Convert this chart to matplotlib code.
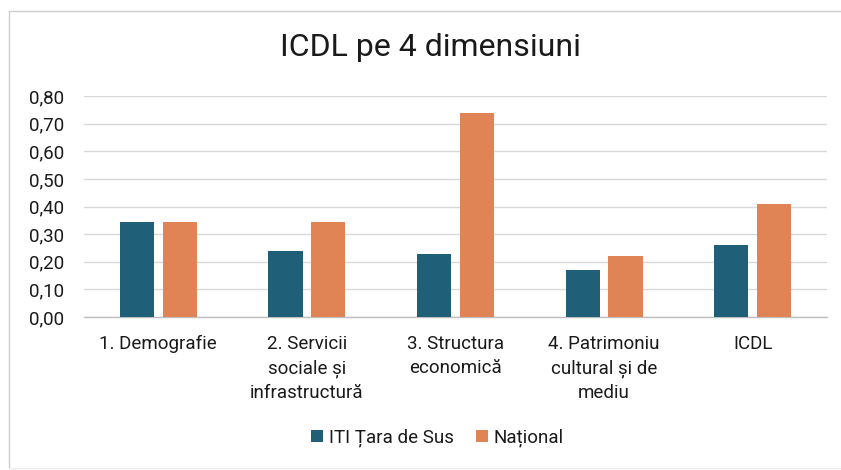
import matplotlib
matplotlib.use("Agg")
import matplotlib.pyplot as plt
import numpy as np
from matplotlib.lines import Line2D

categories = ["1. Demografie", "2. Servicii\nsociale și\ninfrastructură", "3. Structura\neconomică",
              "4. Patrimoniu\ncultural și de\nmediu", "ICDL"]
iti_values = [0.345, 0.24, 0.227, 0.17, 0.26]
national_values = [0.345, 0.345, 0.74, 0.22, 0.41]
series_names = ["ITI Țara de Sus", "Național"]
yticks = [0.0, 0.1, 0.2, 0.3, 0.4, 0.5, 0.6, 0.7, 0.8]
ytick_labels = ["0,00", "0,10", "0,20", "0,30", "0,40", "0,50", "0,60", "0,70", "0,80"]
title = "ICDL pe 4 dimensiuni"

plt.rcParams['font.family'] = ['Roboto', 'DejaVu Sans']

fig = plt.figure(figsize=(8.41, 4.70), dpi=100)
# chart frame (top and left edges visible, faint bottom)
fig.add_artist(Line2D([9/841, 1.0], [1-11/470, 1-11/470], transform=fig.transFigure,
                      color="#cfcfcf", linewidth=1.0))
fig.add_artist(Line2D([9/841, 9/841], [1-11/470, 1-468/470], transform=fig.transFigure,
                      color="#cfcfcf", linewidth=1.0))
fig.add_artist(Line2D([9/841, 1.0], [1-468/470, 1-468/470], transform=fig.transFigure,
                      color="#ececec", linewidth=1.0))

ax = fig.add_axes([84/841, 1-317/470, 743/841, 221/470])

x = np.arange(len(categories))
w = 0.23
off = 0.144
c1 = "#1f5f78"
c2 = "#e08456"
ax.bar(x - off, iti_values, w, color=c1, label=series_names[0], zorder=3)
ax.bar(x + off, national_values, w, color=c2, label=series_names[1], zorder=3)

ax.set_xlim(-0.5, len(categories) - 0.5)
ax.set_ylim(0, 0.8)
ax.set_yticks(yticks)
ax.set_yticklabels(ytick_labels, fontsize=13.5, color="#1a1a1a")
ax.set_xticks(x)
ax.set_xticklabels(categories, fontsize=13.5, color="#1a1a1a", linespacing=1.45)
ax.tick_params(axis="both", length=0)
ax.tick_params(axis="y", pad=14)
ax.tick_params(axis="x", pad=13)
ax.grid(axis="y", color="#d9d9d9", linewidth=1.0, zorder=0)
for s in ["top", "right", "left"]:
    ax.spines[s].set_visible(False)
ax.spines["bottom"].set_color("#bfbfbf")
ax.spines["bottom"].set_linewidth(1.0)

fig.text(0.512, 1-48/470, title, ha="center", va="center", fontsize=23, color="#1a1a1a")

leg = fig.legend(loc="center", bbox_to_anchor=(0.52, 1-438/470), ncol=2, frameon=False,
                 fontsize=13.5, handlelength=0.65, handleheight=0.65, handletextpad=0.3,
                 columnspacing=1.2)
for t in leg.get_texts():
    t.set_color("#1a1a1a")

fig.savefig("out.png", dpi=100)
